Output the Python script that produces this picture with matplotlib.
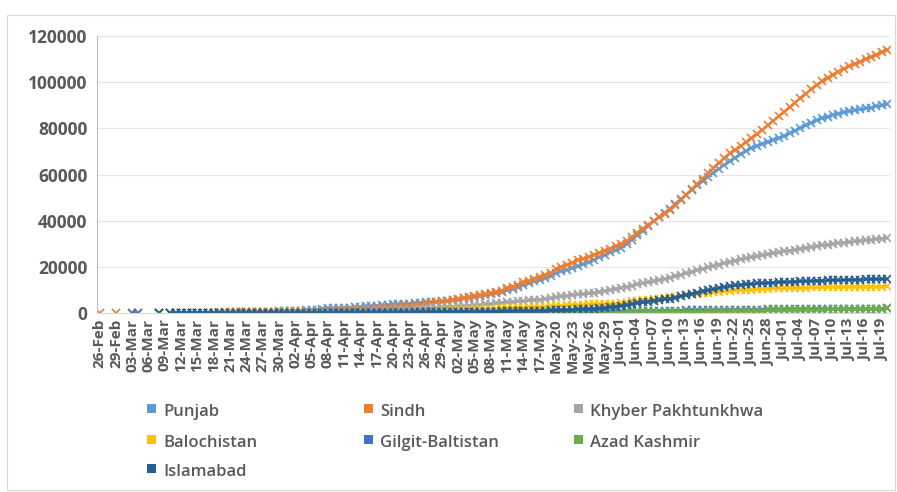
import numpy as np
import matplotlib
matplotlib.use("Agg")
import matplotlib.pyplot as plt
from matplotlib.patches import Rectangle

N = None

# Daily categories 26-Feb .. 20-Jul (146 days); tick label every 3rd day
tick_labels = ["26-Feb", "29-Feb", "03-Mar", "06-Mar", "09-Mar", "12-Mar", "15-Mar", "18-Mar",
               "21-Mar", "24-Mar", "27-Mar", "30-Mar", "02-Apr", "05-Apr", "08-Apr", "11-Apr",
               "14-Apr", "17-Apr", "20-Apr", "23-Apr", "26-Apr", "29-Apr", "02-May", "05-May",
               "08-May", "11-May", "14-May", "17-May", "May-20", "May-23", "May-26", "May-29",
               "Jun-01", "Jun-04", "Jun-07", "Jun-10", "Jun-13", "Jun-16", "Jun-19", "Jun-22",
               "Jun-25", "Jun-28", "Jul-01", "Jul-04", "Jul-07", "Jul-10", "Jul-13", "Jul-16",
               "Jul-19"]

punjab = ([N] * 11 + [0, N, 0] +
          [0, 0, 0, 0, 1, 26, 33, 33, 80, 96, 137, 225, 249, 296, 323, 490, 490, 593, 636, 652, 740] +
          [845, 1000, 1072, 1105, 1234, 1493, 1918, 2004, 2108, 2171, 2279, 2336, 2425, 2594, 2826,
           2945, 3165, 3391, 3517, 3721, 3900, 4000, 4100, 4250, 4400, 4550, 4700, 4850, 5000, 5150] +
          [5500, 5800, 6300, 6700, 7050, 7400, 7700, 8100, 8500, 9000, 9900, 10550, 11100, 12200,
           12900, 13700, 14400, 15100, 15950, 17300, 18000, 18730, 19557, 20188, 21086, 22037, 23094,
           24104, 25056, 26240, 27150] +
          [28300, 30000, 31800, 33700, 35700, 37700, 39700, 41600, 43400, 45200, 47300, 49300, 51300,
           53300, 55300, 57200, 59000, 60800, 62500, 64100, 65700, 67300, 68800, 70200, 71400, 72400,
           73300, 74200, 75000, 75800] +
          [76600, 77800, 79000, 80200, 81300, 82400, 83400, 84300, 85100, 85800, 86400, 86900, 87400,
           87800, 88200, 88600, 89000, 89500, 90000, 90500])

sindh = ([1, N, N, 2, N, N, 4, 4, N, N, N, 4, N, 14] +
         [14, 15, 15, 16, 35, 150, 183, 208, 245, 267, 333, 394, 399, 413, 413, 421, 440, 469, 502, 627, 676] +
         [708, 743, 783, 830, 881, 932, 986, 1036, 1128, 1214, 1318, 1411, 1452, 1518, 1668, 1820, 2008,
          2217, 2355, 2537, 2764, 2935, 3053, 3373, 3671, 3945, 4232, 4615, 4956, 5291] +
         [5695, 6053, 6675, 7102, 7465, 7882, 8189, 8640, 9093, 9691, 10771, 11480, 12017, 13341, 14015,
          14916, 15590, 16373, 17241, 18964, 19924, 20883, 21645, 22934, 23507, 24206, 25200, 26113,
          27013, 27940, 28900] +
         [29700, 31100, 32900, 34800, 36600, 38300, 39900, 41400, 42900, 44500, 46600, 48900, 51300,
          53600, 55900, 58200, 60500, 62800, 65000, 67200, 69100, 70700, 72300, 73900, 75600, 77400,
          79300, 81300, 83300, 85200] +
         [87100, 89100, 91100, 93100, 95000, 96900, 98700, 100400, 101900, 103300, 104600, 105800,
          106900, 107900, 108900, 109900, 110900, 111900, 113000, 114000])

kp = ([N] * 11 + [0, N, 0] +
      [0, 0, 0, 0, 15, 15, 16, 19, 23, 31, 38, 38, 78, 78, 121, 121, 180, 188, 195, 221, 253] +
      [276, 343, 405, 432, 500, 560, 572, 620, 656, 697, 744, 800, 865, 953, 1077, 1137, 1235, 1276,
       1345, 1453, 1541, 1609, 1708, 1793, 1907, 2020, 2160, 2313, 2468, 2627] +
      [2799, 2907, 3079, 3129, 3288, 3499, 3712, 3956, 4232, 4509, 4669, 4875, 5036, 5252, 5446, 5678,
       5847, 6083, 6393, 6875, 7155, 7543, 7889, 8080, 8259, 8483, 8778, 9067, 9540, 10027, 10485] +
      [10897, 11373, 11799, 12459, 12909, 13301, 13787, 14262, 14727, 15300, 15950, 16600, 17250,
       17900, 18550, 19200, 19800, 20400, 21000, 21600, 22150, 22700, 23200, 23700, 24150, 24600,
       25050, 25450, 25850, 26250] +
      [26650, 27050, 27450, 27850, 28250, 28600, 28950, 29300, 29600, 29900, 30200, 30500, 30750,
       31000, 31250, 31500, 31750, 32000, 32250, 32500])

balochistan = ([N] * 11 + [0, N, 0] +
               [0, 0, 0, 0, 10, 81, 92, 104, 104, 110, 110, 110, 110, 115, 115, 131, 133, 138, 138, 152, 158] +
               [164, 169, 175, 175, 189, 191, 202, 212, 212, 212, 220, 220, 224, 228, 230, 232, 247, 256,
                256, 272, 290, 337, 356, 381, 432, 495, 581, 781, 1005, 1172] +
               [1218, 1375, 1495, 1627, 1725, 1786, 1854, 1893, 1935, 2017, 2061, 2117, 2241, 2348, 2457,
                2544, 2654, 2743, 2820, 3074, 3205, 3306, 3407, 3468, 3536, 3686, 3738, 3928, 3948, 3955,
                4087] +
               [4193, 4514, 4988, 5224, 5582, 5776, 5980, 6221, 6516, 6788, 7031, 7305, 7673, 8019, 8327,
                8611, 8852, 9068, 9306, 9475, 9620, 9837, 9956, 10078, 10178, 10264, 10411, 10497, 10627,
                10750] +
               [10800, 10850, 10900, 10950, 11000, 11050, 11100, 11130, 11160, 11190, 11220, 11250, 11280,
                11310, 11340, 11370, 11400, 11430, 11460, 11500])

gilgit = ([N, N, N, N, N, N, 1, 1, N, N, N, 1, N, 1] +
          [1, 1, 1, 1, 3, 3, 3, 5, 21, 71, 80, 84, 84, 107, 116, 121, 148, 180, 184, 187, 187] +
          [190, 193, 193, 211, 213, 213, 215, 216, 224, 224, 228, 228, 231, 233, 236, 237, 237, 253, 255,
           260, 268, 283, 283, 286, 297, 299, 307, 308, 317, 339] +
          [352, 366, 370, 385, 411, 435, 456, 479, 511, 550, 558, 560, 564, 569, 576, 586, 591, 596, 599,
           602, 607, 613, 619, 621, 630, 641, 655, 662, 676, 690, 708] +
          [721, 743, 762, 790, 817, 848, 886, 925, 985, 1041, 1060, 1080, 1105, 1130, 1155, 1180, 1205,
           1230, 1260, 1290, 1320, 1350, 1380, 1410, 1440, 1470, 1500, 1525, 1550, 1575] +
          [1595, 1615, 1635, 1655, 1675, 1695, 1715, 1735, 1755, 1770, 1785, 1800, 1815, 1830, 1850,
           1870, 1890, 1910, 1935, 1960])

azad_kashmir = ([N] * 11 + [0, N, 0] +
                [0, 0, 0, 0, 0, 0, 0, 0, 1, 1, 1, 1, 1, 1, 1, 1, 1, 1, 2, 2, 6] +
                [6, 6, 9, 9, 11, 15, 23, 29, 34, 39, 39, 40, 43, 44, 46, 46, 46, 46, 49, 50, 54, 55, 55,
                 56, 59, 60, 60, 61, 64, 66] +
                [67, 71, 71, 72, 76, 76, 78, 83, 85, 90, 92, 95, 99, 101, 105, 110, 115, 118, 120, 123,
                 130, 137, 145, 153, 160, 167, 175, 180, 184, 188, 200] +
                [220, 240, 265, 290, 310, 325, 340, 360, 380, 400, 430, 460, 500, 540, 580, 620, 660, 700,
                 740, 780, 820, 860, 900, 940, 980, 1020, 1060, 1100, 1140, 1180] +
                [1220, 1260, 1300, 1340, 1380, 1420, 1460, 1500, 1540, 1580, 1620, 1660, 1700, 1740, 1780,
                 1820, 1860, 1900, 1930, 1960])

islamabad = ([N] * 11 + [0, N, 0] +
             [1, 2, 2, 2, 2, 4, 4, 4, 7, 10, 15, 15, 15, 15, 16, 25, 27, 39, 43, 54, 58] +
             [62, 71, 73, 75, 76, 80, 82, 94, 102, 107, 113, 116, 119, 124, 131, 138, 144, 152, 163, 175,
              185, 194, 214, 222, 232, 248, 270, 291, 315, 343] +
             [365, 394, 415, 432, 456, 479, 506, 539, 589, 654, 665, 735, 774, 808, 832, 925, 1002, 1052,
              1131, 1180, 1235, 1326, 1428, 1592, 1728, 1847, 1917, 2035, 2180, 2490, 2800] +
             [3133, 3454, 3770, 4323, 4600, 4979, 5238, 5610, 5963, 6236, 6689, 7235, 7815, 8345, 8853,
              9325, 9835, 10190, 10880, 11240, 11670, 11950, 12170, 12400, 12600, 12790, 12940, 13060,
              13180, 13280] +
             [13400, 13500, 13600, 13700, 13800, 13880, 13960, 14040, 14110, 14180, 14250, 14310, 14370,
              14430, 14490, 14550, 14610, 14660, 14710, 14760])

series_names = ["Punjab", "Sindh", "Khyber Pakhtunkhwa", "Balochistan", "Gilgit-Baltistan",
                "Azad Kashmir", "Islamabad"]
series_values = [punjab, sindh, kp, balochistan, gilgit, azad_kashmir, islamabad]
colors = ["#5B9BD5", "#ED7D31", "#A5A5A5", "#FFC000", "#4472C4", "#70AD47", "#255E91"]

for s in series_values:
    assert len(s) == 146, len(s)

plt.rcParams['font.family'] = ['Open Sans', 'DejaVu Sans']
text_color = "#595959"

fig = plt.figure(figsize=(8.97, 4.92), dpi=100)
W, H = 897, 492
ax = fig.add_axes([97 / W, 1 - 313 / H, (890 - 97) / W, (313 - 36) / H])

x = np.arange(146)
for name, vals, c in zip(series_names, series_values, colors):
    y = np.array(vals, dtype=float)
    ax.plot(x, y, color=c, lw=1.8, marker='x', markersize=5.5, markeredgewidth=1.2, label=name)

ax.set_xlim(-0.5, 145.5)
ax.set_ylim(0, 120000)
ax.set_yticks(np.arange(0, 120001, 20000))
ax.set_yticklabels([str(v) for v in range(0, 120001, 20000)], fontsize=12.5, fontweight='bold',
                   color=text_color)
ax.set_xticks(np.arange(0, 146, 3)[:len(tick_labels)])
ax.set_xticklabels(tick_labels, rotation=90, fontsize=11, fontweight='bold', color=text_color)
ax.tick_params(axis='both', length=0)
ax.tick_params(axis='y', pad=7)
ax.tick_params(axis='x', pad=4)
ax.grid(axis='y', color="#E6E6E6", lw=0.8)
ax.set_axisbelow(True)
for sp in ['top', 'right']:
    ax.spines[sp].set_visible(False)
ax.spines['left'].set_color("#BFBFBF")
ax.spines['bottom'].set_color("#D9D9D9")

# Legend: 3 columns, filled row by row
col_sq = [151, 368, 578]
row_y = [412, 443, 472]
for k, (name, c) in enumerate(zip(series_names, colors)):
    r, cidx = divmod(k, 3)
    sx, sy = col_sq[cidx], row_y[r]
    fig.patches.append(Rectangle(((sx - 4.5) / W, 1 - (sy + 0.5) / H), 9 / W, 9 / H,
                                 transform=fig.transFigure, facecolor=c, edgecolor='none'))
    fig.text((sx + 12) / W, 1 - sy / H, name, ha='left', va='center', fontsize=12,
             fontweight='semibold', color=text_color)

fig.patches.append(Rectangle((7 / W, 1 - 490 / H), (895 - 7) / W, (490 - 15) / H,
                             transform=fig.transFigure, fill=False, edgecolor="#D9D9D9", lw=0.8))

fig.savefig("out.png", dpi=100)
